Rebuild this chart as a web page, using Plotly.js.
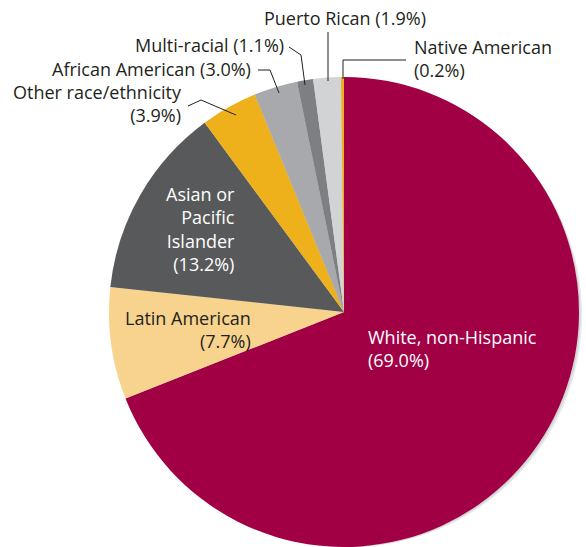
<!DOCTYPE html>
<html><head><meta charset="utf-8">
<script src="https://cdn.plot.ly/plotly-3.0.1.min.js"></script>
<style>html,body{margin:0;padding:0;overflow:hidden;background:#fff}</style>
</head><body><div id="chart" style="width:586px;height:547px"></div>
<script>
var categories = ["White, non-Hispanic","Latin American","Asian or Pacific Islander","Other race/ethnicity","African American","Multi-racial","Puerto Rican","Native American"];
var shares = [69.0, 7.7, 13.2, 3.9, 3.0, 1.1, 1.9, 0.2];
var colors = ["#a20045","#f7d38d","#58595b","#eeb11b","#a7a9ac","#7d7f82","#d1d3d4","#eeb11b"];
var labelLines = [
  ["White, non-Hispanic"],
  ["Latin American"],
  ["Asian or","Pacific","Islander"],
  ["Other race/ethnicity"],
  ["African American"],
  ["Multi-racial"],
  ["Puerto Rican"],
  ["Native American"]
];

var W = 586, H = 547;
function px(x){return x/W;}
function py(y){return 1 - y/H;}
var cx = 344, cy = 312, R = 235;

function dom(dx, dy){
  return {x:[px(cx-R+dx), px(cx+R+dx)], y:[py(cy+R+dy), py(cy-R+dy)]};
}

var shadow1 = {type:'pie', values:[1], marker:{colors:['#e9eaeb']}, textinfo:'none', hoverinfo:'none', sort:false, domain:dom(6,6), showlegend:false};
var shadow2 = {type:'pie', values:[1], marker:{colors:['#d3d4d6']}, textinfo:'none', hoverinfo:'none', sort:false, domain:dom(3,3), showlegend:false};
var main = {type:'pie', labels:categories, values:shares, sort:false, direction:'clockwise', rotation:0,
  marker:{colors:colors, line:{width:0}}, textinfo:'none', hoverinfo:'none', domain:dom(0,0), showlegend:false};

function pct(i){return "(" + shares[i].toFixed(1) + "%)";}
var font = "Open Sans, Noto Sans, sans-serif";
var fs = 18;
var dark = "#231f20";
function ann(x, y, text, align, xanchor, color){
  return {xref:'paper', yref:'paper', x:px(x), y:py(y), text:text, showarrow:false, align:align,
    xanchor:xanchor, yanchor:'middle', font:{family:font, size:fs, color:color}};
}
var annotations = [
  ann(366, 348, labelLines[0][0] + "<br>" + pct(0), 'left', 'left', '#ffffff'),
  ann(253, 329, labelLines[1][0] + "<br>" + pct(1), 'right', 'right', dark),
  ann(237, 229, labelLines[2].join("<br>") + "<br>" + pct(2), 'right', 'right', '#ffffff'),
  ann(184, 103, labelLines[3][0] + "<br>" + pct(3), 'right', 'right', dark),
  ann(253, 69, labelLines[4][0] + " " + pct(4), 'right', 'right', dark),
  ann(286, 45, labelLines[5][0] + " " + pct(5), 'right', 'right', dark),
  ann(345, 18, labelLines[6][0] + " " + pct(6), 'center', 'center', dark),
  ann(412, 59, labelLines[7][0] + "<br>" + pct(7), 'left', 'left', dark)
];

function path(pts){
  return 'M ' + pts.map(function(p){return px(p[0]) + ',' + py(p[1]);}).join(' L ');
}
var leaders = [
  [[188,106],[201,100],[236,115]],
  [[258,70],[270,70],[279,93]],
  [[289,47],[301,55],[305,85]],
  [[328,32],[328,81]],
  [[406,60],[343,60],[343,79]]
];
var shapes = leaders.map(function(pts){
  return {type:'path', xref:'paper', yref:'paper', path:path(pts), line:{color:dark, width:1}};
});

Plotly.newPlot('chart', [shadow1, shadow2, main], {
  width:W, height:H, margin:{l:0,r:0,t:0,b:0}, paper_bgcolor:'#ffffff',
  annotations:annotations, shapes:shapes, showlegend:false
}, {staticPlot:true});
</script></body></html>
